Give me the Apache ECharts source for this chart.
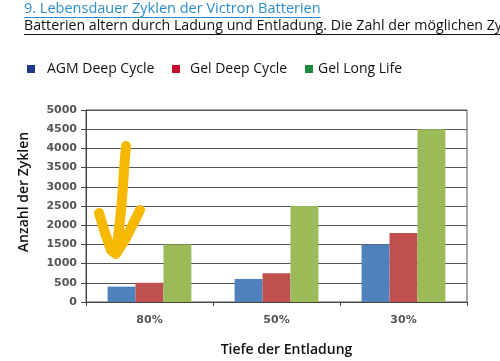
<!DOCTYPE html>
<html><head><meta charset="utf-8">
<script src="https://cdn.jsdelivr.net/npm/echarts@6/dist/echarts.min.js"></script>
<style>html,body{margin:0;padding:0;background:#fff}#c{width:500px;height:361px}</style>
</head><body><div id="c"></div>
<script>
const categories = ['80%', '50%', '30%'];
const seriesNames = ['AGM Deep Cycle', 'Gel Deep Cycle', 'Gel Long Life'];
const agmDeep = [400, 600, 1500];
const gelDeep = [500, 750, 1800];
const gelLong = [1500, 2500, 4500];
const yTicks = [0, 500, 1000, 1500, 2000, 2500, 3000, 3500, 4000, 4500, 5000];
const titleText = '9. Lebensdauer Zyklen der Victron Batterien';
const subText = 'Batterien altern durch Ladung und Entladung. Die Zahl der möglichen Zyklen';

const barColors = ['#4F81BD', '#C0504D', '#9BBB59'];
const legendColors = ['#1F3A8A', '#C8102E', '#1E8A3E'];
const font = '"Open Sans", sans-serif';

function textW(t, f) {
  const c = document.createElement('canvas').getContext('2d');
  c.font = f; return c.measureText(t).width;
}
const tFont = '14.5px "Open Sans"';
const sFont = '14.2px "Open Sans"';
const w1 = textW(titleText, tFont);
const w2 = textW(subText, sFont);

const chart = echarts.init(document.getElementById('c'));
const legendLeft = [22, 167, 300];
const legendPad = [7, 5, 0];
chart.setOption({
  animation: false,
  grid: { left: 86, right: 33, top: 110, bottom: 59, show: true, borderColor: '#555', borderWidth: 1,
    outerBoundsMode: 'none', containLabel: false },
  legend: seriesNames.map((n, i) => ({
    data: [{ name: n, itemStyle: { color: legendColors[i] } }],
    left: legendLeft[i], top: 57, icon: 'rect', itemWidth: 8, itemHeight: 8,
    textStyle: { fontFamily: font, fontSize: 14, color: '#111', padding: [0, 0, 0, legendPad[i]] },
    selectedMode: false
  })),
  xAxis: {
    type: 'category', data: categories,
    name: 'Tiefe der Entladung', nameLocation: 'middle', nameGap: 41,
    nameTextStyle: { fontFamily: font, fontSize: 14, fontWeight: 600, color: '#111', padding: [0, 0, 0, 20] },
    axisLine: { lineStyle: { color: '#444', width: 1 } },
    axisTick: { show: true, length: 4, lineStyle: { color: '#444' } },
    axisLabel: { fontFamily: '"DejaVu Sans", sans-serif', fontSize: 11, fontWeight: 'bold', color: '#555', margin: 13 }
  },
  yAxis: {
    type: 'value', min: 0, max: 5000, interval: 500,
    name: 'Anzahl der Zyklen', nameLocation: 'middle', nameGap: 55,
    nameTextStyle: { fontFamily: font, fontSize: 14, fontWeight: 600, color: '#111', padding: [0, 0, 0, 28] },
    axisLine: { show: true, lineStyle: { color: '#444', width: 1 } },
    axisTick: { show: true, length: 5, lineStyle: { color: '#444' } },
    axisLabel: { fontFamily: '"DejaVu Sans", sans-serif', fontSize: 11, fontWeight: 'bold', color: '#555', margin: 9,
      formatter: v => yTicks.includes(v) ? String(v) : '' },
    splitLine: { lineStyle: { color: '#555', width: 1 } }
  },
  series: [agmDeep, gelDeep, gelLong].map((d, i) => ({
    type: 'bar', name: seriesNames[i], data: d,
    barGap: '0%', barCategoryGap: '34%',
    itemStyle: { color: barColors[i] }
  })),
  graphic: [
    { type: 'text', left: 24, top: 1, style: { text: titleText, font: tFont, fill: '#2B8ED1' } },
    { type: 'line', shape: { x1: 24, y1: 17.5, x2: 24 + w1, y2: 17.5 }, style: { stroke: '#2B8ED1', lineWidth: 1 } },
    { type: 'text', left: 24, top: 18.5, style: { text: subText, font: sFont, fill: '#111' } },
    { type: 'line', shape: { x1: 24, y1: 34.5, x2: 24 + w2, y2: 34.5 }, style: { stroke: '#111', lineWidth: 1 } },
    { type: 'polyline', z: 100, shape: { points: [[126, 146], [124, 170], [122, 200], [119, 230], [116, 253]] },
      style: { stroke: '#F6B800', lineWidth: 10, lineCap: 'round', lineJoin: 'round', fill: null } },
    { type: 'polyline', z: 100, shape: { points: [[99, 213], [105, 233], [111, 250], [116, 254], [126, 238], [140, 210]] },
      style: { stroke: '#F6B800', lineWidth: 10, lineCap: 'round', lineJoin: 'round', fill: null } }
  ]
});
</script></body></html>
